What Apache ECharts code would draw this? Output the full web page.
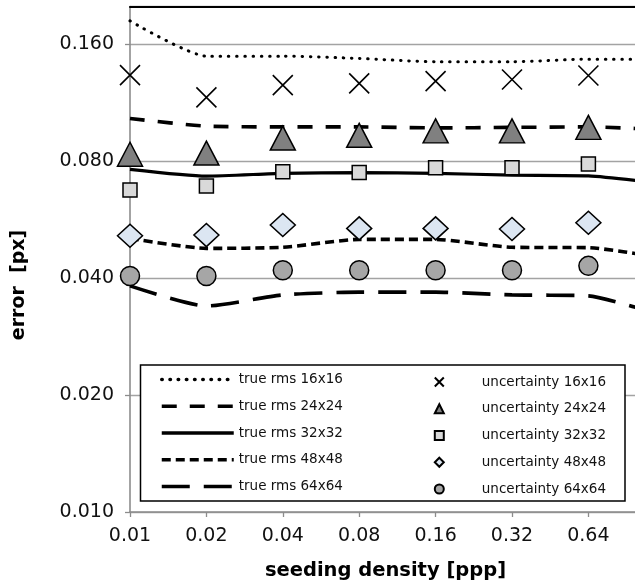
<!DOCTYPE html>
<html><head><meta charset="utf-8">
<script src="https://cdn.jsdelivr.net/npm/echarts@6/dist/echarts.min.js"></script>
<style>html,body{margin:0;padding:0;background:#fff;overflow:hidden}#c{width:635px;height:586px}</style>
</head><body><div id="c"></div>
<script>
// x categories (seeding density, ppp); the last one lies just beyond the visible area
const categories = ['0.01','0.02','0.04','0.08','0.16','0.32','0.64','1.28'];
// y tick labels (log2 scale, base value 0.010)
const yTickLabels = ['0.010','0.020','0.040','0.080','0.160'];
const yBase = 0.01, yTop = 0.2;
const xVisibleMax = 6.61; // visible part of the x range, in category steps

// true rms error lines
const rms16 = [0.1837,0.1490,0.1490,0.1470,0.1441,0.1441,0.1464,0.1464];
const rms24 = [0.1030,0.0984,0.0980,0.0980,0.0974,0.0977,0.0980,0.0963];
const rms32 = [0.0762,0.0732,0.0744,0.0747,0.0744,0.0736,0.0733,0.0699];
const rms48 = [0.0506,0.0477,0.0480,0.0503,0.0503,0.0480,0.0479,0.0450];
const rms64 = [0.0382,0.0339,0.0362,0.0368,0.0368,0.0362,0.0360,0.0319];
// uncertainty markers
const unc16 = [0.1332,0.1167,0.1255,0.1268,0.1285,0.1298,0.1329];
const unc24 = [0.0833,0.0839,0.0917,0.0932,0.0957,0.0957,0.0977];
const unc32 = [0.0674,0.0690,0.0751,0.0748,0.0769,0.0769,0.0786];
const unc48 = [0.0514,0.0516,0.0548,0.0537,0.0537,0.0535,0.0555];
const unc64 = [0.0405,0.0405,0.0419,0.0419,0.0419,0.0419,0.0430];

const lineNames = ['true rms 16x16','true rms 24x24','true rms 32x32','true rms 48x48','true rms 64x64'];
const markNames = ['uncertainty 16x16','uncertainty 24x24','uncertainty 32x32','uncertainty 48x48','uncertainty 64x64'];

const L = v => Math.log2(v / yBase);
const toPairs = arr => arr.map((v,i) => [i, L(v)]);
const FONT = 'DejaVu Sans';

const lineStyles = [
  {width:3, type:[0.5,7.7], cap:'round'},
  {width:3.6, type:[15,13]},
  {width:3.2, type:'solid'},
  {width:3.6, type:[9,5]},
  {width:3.6, type:[28,14]}
];
const rmsData = [rms16,rms24,rms32,rms48,rms64];
const uncData = [unc16,unc24,unc32,unc48,unc64];
const markDefs = [
  {symbol:'path://M0,0L20,20M20,0L0,20', size:[20,20], color:'rgba(0,0,0,0)', bw:1.6},
  {symbol:'triangle', size:[25,24], color:'#808080', bw:1.5},
  {symbol:'rect', size:[14,14], color:'#d9d9d9', bw:1.5},
  {symbol:'diamond', size:[25,23], color:'#dce6f2', bw:1.5},
  {symbol:'circle', size:[19,19], color:'#a6a6a6', bw:1.5}
];

const series = [];
rmsData.forEach((d,i) => series.push({
  name: lineNames[i], type:'line', data: toPairs(d), symbol:'none', smooth:0.2, clip:true,
  itemStyle:{color:'#000'},
  lineStyle: Object.assign({color:'#000'}, lineStyles[i]), z:2, silent:true
}));
uncData.forEach((d,i) => series.push({
  name: markNames[i], type:'scatter', data: toPairs(d), symbol: markDefs[i].symbol,
  symbolSize: markDefs[i].size,
  itemStyle:{color: markDefs[i].color, borderColor:'#000', borderWidth: markDefs[i].bw, opacity:1},
  z:3, silent:true
}));

const legendText = {fontFamily:FONT, fontSize:13.5, color:'#111', lineHeight:14};

const xLabel = v => { const k = Math.round(v); return Math.abs(v-k) < 1e-6 && categories[k] ? categories[k] : ''; };
const yLabel = v => { const k = Math.round(v); return Math.abs(v-k) < 1e-6 && yTickLabels[k] ? yTickLabels[k] : ''; };

const chart = echarts.init(document.getElementById('c'), null, {renderer:'canvas'});
chart.setOption({
  animation:false,
  backgroundColor:'#fff',
  grid:{left:130, top:6.5, bottom:74, right:0, containLabel:false},
  xAxis:[{
    type:'value', min:0, max:xVisibleMax, interval:1, position:'bottom',
    axisLine:{lineStyle:{color:'#8c8c8c', width:1.6}},
    axisTick:{show:true, length:5, lineStyle:{color:'#8c8c8c', width:1.3}},
    axisLabel:{fontFamily:FONT, fontSize:19, color:'#111', margin:15, showMaxLabel:false, formatter:xLabel},
    splitLine:{show:false}
  },{
    type:'value', min:0, max:xVisibleMax, interval:1, position:'top',
    axisLine:{show:true, lineStyle:{color:'#000', width:2}},
    axisTick:{show:false}, axisLabel:{show:false}, splitLine:{show:false}
  }],
  yAxis:{
    type:'value', min:0, max:L(yTop), interval:1,
    axisLine:{show:true, lineStyle:{color:'#8c8c8c', width:1.6}},
    axisTick:{show:true, length:5, lineStyle:{color:'#8c8c8c', width:1.3}},
    axisLabel:{fontFamily:FONT, fontSize:19, color:'#111', margin:16, showMaxLabel:false, formatter:yLabel},
    splitLine:{show:true, lineStyle:{color:'#a3a3a3', width:1.3}}
  },
  legend:[{
    data:lineNames, orient:'vertical', left:155, top:367.5, itemWidth:72, itemHeight:14, itemGap:12.75,
    textStyle:legendText, selectedMode:false, z:10,
    lineStyle:{width:3.5},
    itemStyle:{color:'rgba(0,0,0,0)', borderWidth:0, opacity:0}
  },{
    data:markNames, orient:'vertical', left:428.8, top:370, itemWidth:9, itemHeight:9, itemGap:12.75,
    textStyle:Object.assign({padding:[0,0,0,33]}, legendText), selectedMode:false, z:10
  }],
  graphic:[
    {type:'rect', z:9, shape:{x:140.5, y:365, width:484.5, height:136}, style:{fill:'#fff', stroke:'#000', lineWidth:1.5}},
    {type:'text', z:9, x:385.5, y:571, style:{text:'seeding density [ppp]', fontFamily:FONT, fontWeight:'bold', fontSize:19.5, fill:'#000', align:'center', verticalAlign:'middle'}},
    {type:'text', z:9, x:19, y:285, rotation:Math.PI/2, style:{text:'error  [px]', fontFamily:FONT, fontWeight:'bold', fontSize:19, fill:'#000', align:'center', verticalAlign:'middle'}}
  ],
  series: series
});
</script>
</body></html>
